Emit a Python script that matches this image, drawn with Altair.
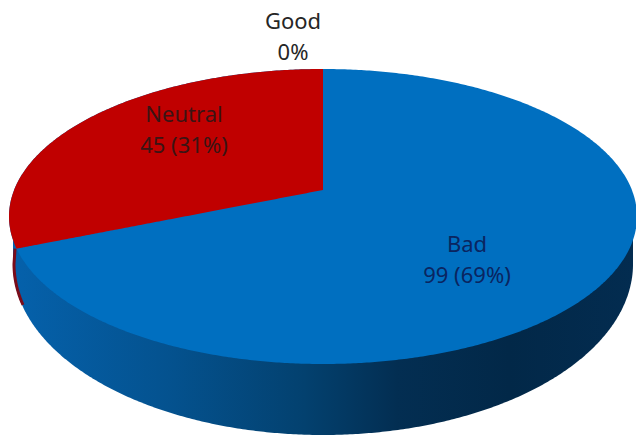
import numpy as np
import pandas as pd
import altair as alt

# Survey counts per sentiment, clockwise from twelve o'clock
categories = ["Bad", "Good", "Neutral"]
counts = [99, 0, 45]
value_texts = ["99 (69%)", "0%", "45 (31%)"]

# Label anchors in pixel space
label_x = [467, 293, 184]
label_y = [245, 22, 115]
line_gap = 31

W, H = 636, 435
CX, APEX_Y = 323, 190
TOP_Y, BOTTOM_Y = 69, 364
RX = 314
ELL_Y = (TOP_Y + BOTTOM_Y) / 2
RY = (BOTTOM_Y - TOP_Y) / 2
# Base outline of the disc, seen slightly larger through the perspective
BASE_Y, BASE_RX, BASE_RY = 264, 310, 171

# Perspective tilt: maps a unit circle so its centre lands on the apex
TILT_C = 53 / 295
TILT_B = -121 + 69 * TILT_C
RADIUS = RX * np.sqrt(1 - TILT_C ** 2)


def rim_point(share):
    """Point on the rim reached after a clockwise share of the full turn."""
    a = 2 * np.pi * share
    u, v = np.sin(a), np.cos(a)
    d = 1 + TILT_C * v
    return CX + RADIUS * u / d, (APEX_Y + TILT_B * v) / d


def half_height(x, rx, ry):
    return ry * np.sqrt(np.clip(1 - ((x - CX) / rx) ** 2, 0, 1))


total = sum(counts)
edge_x, edge_y = rim_point(counts[0] / total)

t = np.linspace(-np.pi / 2, np.pi / 2, 361)
disc_x = CX + RX * np.sin(t)
base_x = CX + BASE_RX * np.sin(t)

disc = pd.DataFrame({
    "x": disc_x,
    "y": ELL_Y - half_height(disc_x, RX, RY),
    "y2": ELL_Y + half_height(disc_x, RX, RY),
})

wall = pd.DataFrame({
    "x": base_x,
    "y": np.full_like(base_x, ELL_Y),
    "y2": BASE_Y + half_height(base_x, BASE_RX, BASE_RY),
})

# Neutral wedge: from the left rim to the apex, closed along its radial edge
nx = disc_x[disc_x <= CX]
neutral_low = np.where(
    nx < edge_x,
    ELL_Y + half_height(nx, RX, RY),
    edge_y + (APEX_Y - edge_y) * (nx - edge_x) / (CX - edge_x),
)
neutral = pd.DataFrame({"x": nx, "y": ELL_Y - half_height(nx, RX, RY), "y2": neutral_low})

# Dark red wall of the Neutral slice, just visible along the left silhouette
sliver_t = np.linspace(-np.pi / 2, np.arcsin((22 - CX) / BASE_RX), 30)
sliver_x = CX + BASE_RX * np.sin(sliver_t)
sliver = pd.DataFrame({
    "x": np.append(edge_x - 1.5, sliver_x + 1),
    "y": np.append(edge_y, BASE_Y + half_height(sliver_x, BASE_RX, BASE_RY)),
})

x_scale = alt.Scale(domain=[0, W], range=[0, W], nice=False, zero=False)
y_scale = alt.Scale(domain=[0, H], range=[0, H], nice=False, zero=False)
X = alt.X("x:Q", scale=x_scale, axis=None)
Y = alt.Y("y:Q", scale=y_scale, axis=None, stack=None)

wall_fill = alt.Gradient(
    gradient="linear", x1=0, x2=1, y1=0, y2=0,
    stops=[
        alt.GradientStop(color="#0561ab", offset=0.0),
        alt.GradientStop(color="#04528f", offset=0.25),
        alt.GradientStop(color="#03416f", offset=0.47),
        alt.GradientStop(color="#032e52", offset=0.62),
        alt.GradientStop(color="#022848", offset=0.8),
        alt.GradientStop(color="#032c50", offset=1.0),
    ],
)

wall_layer = alt.Chart(wall).mark_area(color=wall_fill).encode(x=X, y=Y, y2="y2:Q")
sliver_layer = alt.Chart(sliver).mark_line(color="#7a0c1a", strokeWidth=3).encode(
    x=X, y=Y, order=alt.Order("y:Q")
)
bad_layer = alt.Chart(disc).mark_area(color="#006fc0").encode(x=X, y=Y, y2="y2:Q")
neutral_layer = alt.Chart(neutral).mark_area(color="#c00000").encode(x=X, y=Y, y2="y2:Q")

labels = pd.DataFrame({
    "name": categories,
    "value": value_texts,
    "x": label_x,
    "y": label_y,
    "y_value": [v + line_gap for v in label_y],
    "ink": ["#0a2560", "#262626", "#3a1414"],
})
font = dict(font="Noto Sans", fontSize=22, align="center", baseline="middle")
name_layer = alt.Chart(labels).mark_text(**font).encode(
    x=X, y=Y, text="name:N", color=alt.Color("ink:N", scale=None)
)
value_layer = alt.Chart(labels).mark_text(**font).encode(
    x=X, y=alt.Y("y_value:Q", scale=y_scale, axis=None), text="value:N",
    color=alt.Color("ink:N", scale=None),
)

chart = (
    alt.layer(wall_layer, sliver_layer, bad_layer, neutral_layer, name_layer, value_layer)
    .properties(width=W, height=H, padding=0, autosize=alt.AutoSizeParams(type="none"))
    .configure_view(stroke=None)
)

chart.save("out.html", embed_options={"renderer": "svg", "actions": False})
